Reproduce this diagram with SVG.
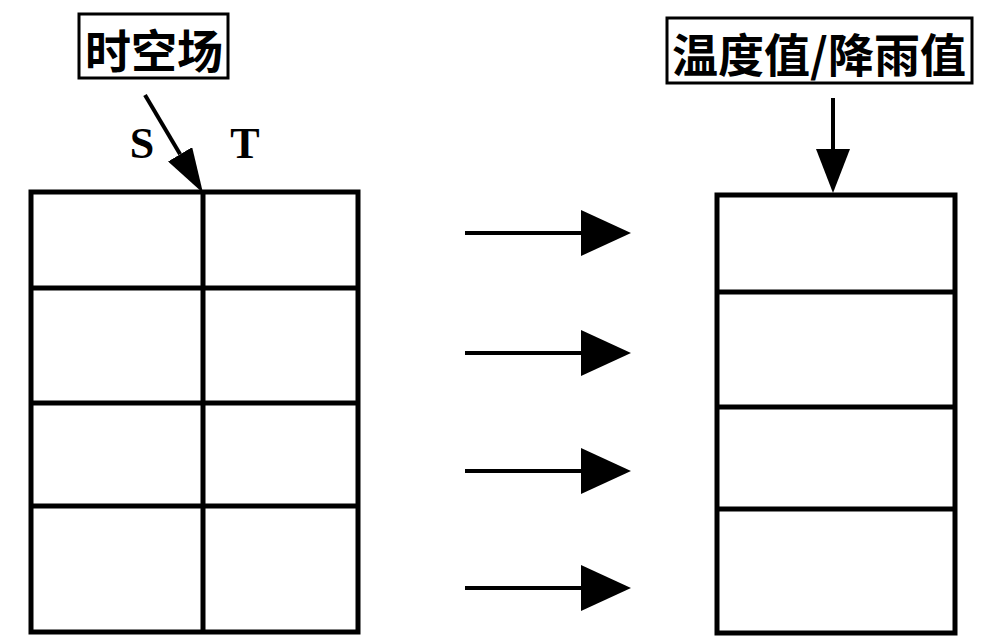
<svg xmlns="http://www.w3.org/2000/svg" width="987" height="636" viewBox="0 0 987 636">
<style>
.ln{stroke:#000;stroke-width:5;fill:none}
.box{stroke:#000;stroke-width:3;fill:#fff}
.cj{font-family:"Noto Sans CJK SC","Noto Sans CJK JP",sans-serif;font-size:46px;font-weight:700;fill:#000}
.lt{font-family:"Liberation Serif","Times New Roman",serif;font-size:44px;font-weight:700;fill:#000}
.ar{stroke:#000;stroke-width:4;fill:none}
</style>
<defs>
<marker id="hH" markerUnits="userSpaceOnUse" viewBox="0 0 50 46" markerWidth="50" markerHeight="46" refX="0" refY="23" orient="auto"><polygon points="0,0 50,23 0,46" fill="#000"/></marker>
<marker id="hV" markerUnits="userSpaceOnUse" viewBox="0 0 44 34" markerWidth="44" markerHeight="34" refX="0" refY="17" orient="auto"><polygon points="0,0 44,17 0,34" fill="#000"/></marker>
<marker id="hD" markerUnits="userSpaceOnUse" viewBox="0 0 45 28" markerWidth="45" markerHeight="28" refX="0" refY="14" orient="auto"><polygon points="0,0 45,14 0,28" fill="#000"/></marker>
</defs>
<g id="label-spacetime">
<rect class="box" x="79" y="14" width="149" height="64"/>
<text class="cj" x="154" y="48" text-anchor="middle" dominant-baseline="central">时空场</text>
</g>
<g id="label-value">
<rect class="box" x="667" y="18" width="305" height="65"/>
<text class="cj" x="819" y="52" text-anchor="middle" dominant-baseline="central">温度值/降雨值</text>
</g>
<g id="labels-ST">
<text class="lt" x="142" y="158" text-anchor="middle">S</text>
<text class="lt" x="245" y="158" text-anchor="middle">T</text>
</g>
<g id="table-left">
<rect class="ln" x="31" y="192" width="327" height="440"/>
<line class="ln" x1="203" y1="192" x2="203" y2="632"/>
<line class="ln" x1="31" y1="288" x2="358" y2="288"/>
<line class="ln" x1="31" y1="403" x2="358" y2="403"/>
<line class="ln" x1="31" y1="506" x2="358" y2="506"/>
</g>
<g id="table-right">
<rect class="ln" x="717" y="195" width="238" height="438"/>
<line class="ln" x1="717" y1="292" x2="955" y2="292"/>
<line class="ln" x1="717" y1="407" x2="955" y2="407"/>
<line class="ln" x1="717" y1="509" x2="955" y2="509"/>
</g>
<g id="connectors">
<line class="ar" x1="145" y1="95" x2="180.1" y2="154.3" marker-end="url(#hD)"/>
<line class="ar" x1="833" y1="98" x2="833" y2="149" marker-end="url(#hV)"/>
<line class="ar" x1="465" y1="233" x2="581" y2="233" marker-end="url(#hH)"/>
<line class="ar" x1="465" y1="353" x2="581" y2="353" marker-end="url(#hH)"/>
<line class="ar" x1="465" y1="471" x2="581" y2="471" marker-end="url(#hH)"/>
<line class="ar" x1="465" y1="588" x2="581" y2="588" marker-end="url(#hH)"/>
</g>
</svg>
